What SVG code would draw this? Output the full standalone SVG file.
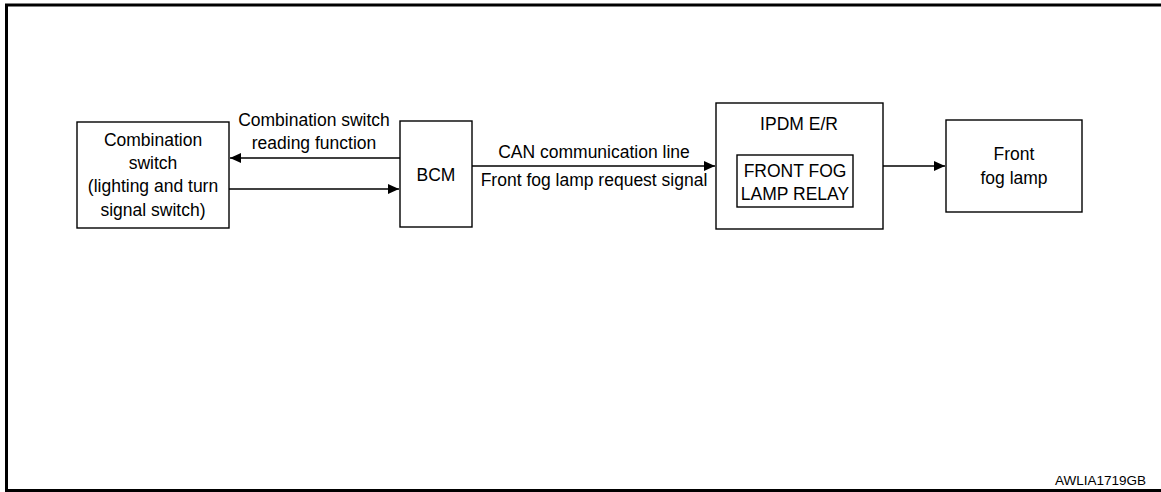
<svg xmlns="http://www.w3.org/2000/svg" width="1161" height="492" viewBox="0 0 1161 492">
<style>
.box{fill:#fff;stroke:#000;stroke-width:1.4}
.t{font-family:"Liberation Sans",Arial,sans-serif;font-size:17.5px;fill:#000;text-anchor:middle}
.c{stroke:#000;stroke-width:1.4;fill:none}
</style>
<defs>
<marker id="ah" markerWidth="12" markerHeight="10" refX="11" refY="5" orient="auto" markerUnits="userSpaceOnUse">
<path d="M0,0 L11,5 L0,10 Z" fill="#000"/>
</marker>
</defs>
<rect width="1161" height="492" fill="#fff"/>
<path d="M1165,5 H6.5 V490.5 H1165" fill="none" stroke="#000" stroke-width="3"/>
<g id="comb">
<rect class="box" x="77" y="122" width="152" height="106"/>
<text class="t" x="153" y="146">Combination</text>
<text class="t" x="153" y="169">switch</text>
<text class="t" x="153" y="192">(lighting and turn</text>
<text class="t" x="153" y="216">signal switch)</text>
</g>
<g id="bcm">
<rect class="box" x="400" y="121" width="72" height="106"/>
<text class="t" x="436" y="181">BCM</text>
</g>
<g id="ipdm">
<rect class="box" x="716" y="103" width="167" height="126"/>
<text class="t" x="799" y="130">IPDM E/R</text>
<rect class="box" x="737" y="155" width="116" height="52"/>
<text class="t" x="795" y="177">FRONT FOG</text>
<text class="t" x="795" y="200">LAMP RELAY</text>
</g>
<g id="foglamp">
<rect class="box" x="946" y="120" width="136" height="92"/>
<text class="t" x="1014" y="160">Front</text>
<text class="t" x="1014" y="184">fog lamp</text>
</g>
<g id="connectors">
<line class="c" x1="400" y1="158" x2="230" y2="158" marker-end="url(#ah)"/>
<line class="c" x1="229" y1="189" x2="399" y2="189" marker-end="url(#ah)"/>
<line class="c" x1="472" y1="166" x2="715" y2="166" marker-end="url(#ah)"/>
<line class="c" x1="883" y1="166" x2="945" y2="166" marker-end="url(#ah)"/>
<text class="t" x="314" y="126">Combination switch</text>
<text class="t" x="314" y="149">reading function</text>
<text class="t" x="594" y="158">CAN communication line</text>
<text class="t" x="594" y="186">Front fog lamp request signal</text>
</g>
<text x="1146" y="485" font-family="Liberation Sans,Arial,sans-serif" font-size="13.5" text-anchor="end">AWLIA1719GB</text>
</svg>
